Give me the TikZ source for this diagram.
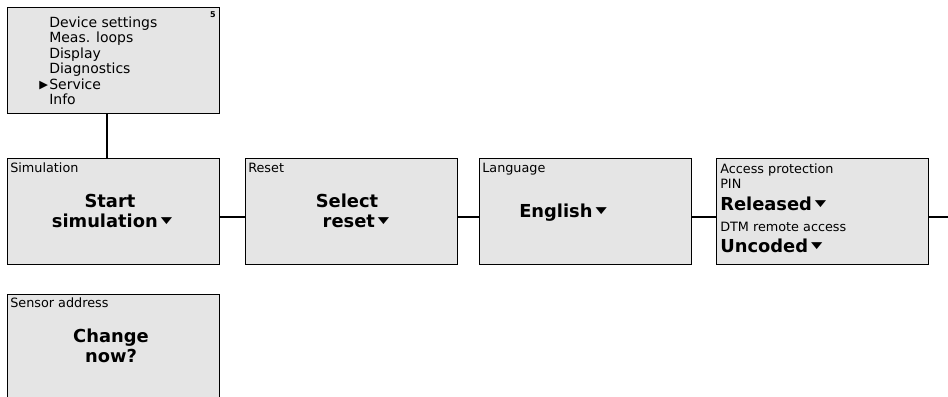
\documentclass[tikz,border=0pt]{standalone}
\usepackage{graphicx}
\usepackage{fontspec}
\setmainfont{DejaVu Sans}
\newcommand{\dtri}{\,\raisebox{3pt}{\scalebox{1.3}[0.8]{\fontsize{8.5pt}{9pt}\selectfont ▼}}}
\begin{document}
\begin{tikzpicture}[x=0.75pt,y=-0.75pt,
  screen/.style={draw=black, line width=1.1pt, fill=black!10, anchor=north west,
    minimum width=159pt, minimum height=79.5pt, inner sep=0pt},
  conn/.style={line width=1.4pt},
  ttl/.style={anchor=base west, inner sep=0pt, font=\fontsize{9.6pt}{11pt}\selectfont},
  big/.style={anchor=base, inner sep=0pt, font=\fontsize{13.4pt}{16pt}\selectfont\bfseries},
  bigl/.style={anchor=base west, inner sep=0pt, font=\fontsize{13.4pt}{16pt}\selectfont\bfseries},
  menu/.style={anchor=base west, inner sep=0pt, font=\fontsize{10.5pt}{12pt}\selectfont}]
\useasboundingbox (0,0) rectangle (948,396);
% screens
\node[screen] (menu) at (7,7) {};
\node[screen] (sim) at (7,158) {};
\node[screen] (reset) at (245,158) {};
\node[screen] (lang) at (479,158) {};
\node[screen] (acc) at (716,158) {};
\node[screen] (sens) at (7,294) {};
% connectors
\draw[conn] ([xshift=-5.25pt]menu.south) -- ([xshift=-5.25pt]sim.north);
\draw[conn] ([yshift=-3.75pt]sim.east) -- ([yshift=-3.75pt]reset.west);
\draw[conn] ([yshift=-3.75pt]reset.east) -- ([yshift=-3.75pt]lang.west);
\draw[conn] ([yshift=-3.75pt]lang.east) -- ([yshift=-3.75pt]acc.west);
\coordinate (rend) at (948,0);
\draw[conn] ([yshift=-3.75pt]acc.east) coordinate (ae) -- (ae -| rend);
% menu texts
\node[menu] (m1) at (49,27) {Device settings};
\node[menu] (m2) at (49,42.5) {Meas. loops};
\node[menu] (m3) at (49,58) {Display};
\node[menu] (m4) at (49,73.5) {Diagnostics};
\node[menu] (m5) at (49,89) {Service};
\node[anchor=base west, inner sep=0pt, font=\fontsize{8.5pt}{9pt}\selectfont] (mark) at (39,88.5) {▶};
\node[menu] (m6) at (49,104.5) {Info};
\node[anchor=base east, inner sep=0pt, font=\fontsize{6pt}{7pt}\selectfont\bfseries] (pg) at (216,17) {5};
% simulation
\node[ttl] (t1) at (10,172) {Simulation};
\node[big] (s1) at (110,207) {Start};
\node[big] (s2) at (112,227) {simulation\dtri};
% reset
\node[ttl] (t2) at (248,172) {Reset};
\node[big] (r1) at (347,207) {Select};
\node[big] (r2) at (356,227) {reset\dtri};
% language
\node[ttl] (t3) at (482,172) {Language};
\node[bigl] (l1) at (519,217) {English\dtri};
% access
\node[ttl] (t4) at (720,173) {Access protection};
\node[ttl] (t5) at (720,188) {PIN};
\node[bigl] (a1) at (720,210) {Released\dtri};
\node[ttl] (t6) at (720,231) {DTM remote access};
\node[bigl] (a2) at (720,252) {Uncoded\dtri};
% sensor
\node[ttl] (t7) at (10,307) {Sensor address};
\node[big] (c1) at (111,342) {Change};
\node[big] (c2) at (111,362) {now?};
\end{tikzpicture}
\end{document}
